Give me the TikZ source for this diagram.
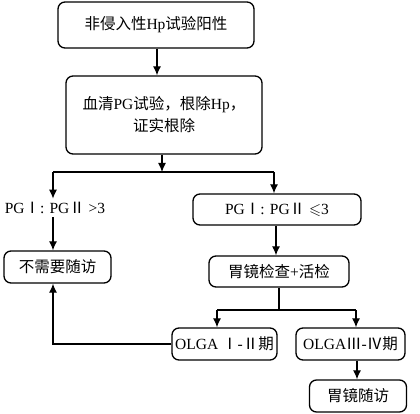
\documentclass[tikz,border=0pt]{standalone}
\usepackage{amssymb}
\usepackage{fontspec}
\setmainfont{Liberation Serif}
\newfontfamily\cjk{Noto Sans CJK SC}
\newcommand{\zh}[1]{{\cjk #1}}
\usetikzlibrary{arrows.meta}
\tikzset{
  box/.style={draw,line width=1.3pt,rounded corners=7pt,align=center,inner sep=0pt},
  arr/.style={line width=1.2pt,-{Latex[length=9pt,width=8pt]}},
  ln/.style={line width=1.2pt}
}
\begin{document}
\begin{tikzpicture}[x=1pt,y=-1pt,font=\fontsize{15.5}{22}\selectfont]
			\useasboundingbox (0,0) rectangle (420,414);
			% boxes
			\node[box,minimum width=196pt,minimum height=46pt] (test) at (156,25) {\zh{非侵入性}Hp\zh{试验阳性}};
			\node[box,minimum width=196pt,minimum height=78pt] (serum) at (164,115) {\zh{血清}PG\zh{试验，根除}Hp\zh{，}\\\zh{证实根除}};
			\node (high) at (55,208) {PG\zh{Ⅰ}: PG\zh{Ⅱ} \textgreater3};
			\node[box,minimum width=168pt,minimum height=31pt] (low) at (277,209.5) {PG\zh{Ⅰ}: PG\zh{Ⅱ} $\leqslant$3};
			\node[box,minimum width=107pt,minimum height=32pt] (nofu) at (57.5,267) {\zh{不需要随访}};
			\node[box,minimum width=140pt,minimum height=31pt] (endo) at (279,271.5) {\zh{胃镜检查}+\zh{活检}};
			\node[box,minimum width=105pt,minimum height=32pt] (olgaA) at (224.5,344) {OLGA \zh{Ⅰ}-\zh{Ⅱ期}};
			\node[box,minimum width=109pt,minimum height=32pt] (olgaB) at (350.5,344) {OLGA\zh{Ⅲ}-\zh{Ⅳ期}};
			\node[box,minimum width=97pt,minimum height=32pt] (fu) at (358,396) {\zh{胃镜随访}};
			% split points
			\coordinate (sl) at (53,172);
			\coordinate (sr) at (274,172);
			\coordinate (el) at (217,310);
			\coordinate (er) at (356,310);
			% connectors
			\draw[arr] (test.south -| 157,0) -- (serum.north -| 157,0);
			\draw[arr] (serum.south -| 162,0) -- (sl -| 162,0);
			\draw[ln] (sl) -- (sr);
			\draw[arr] (sl) -- (high.north -| sl);
			\draw[arr] (sr) -- (low.north -| sr);
			\draw[arr] (high.south -| sl) -- (nofu.north -| sl);
			\draw[arr] (low.south -| 276,0) -- (endo.north -| 276,0);
			\draw[ln] (endo.south -| 279,0) -- (el -| 279,0);
			\draw[ln] (el) -- (er);
			\draw[arr] (el) -- (olgaA.north -| el);
			\draw[arr] (er) -- (olgaB.north -| er);
			\draw[arr] (olgaA.west) -| (nofu.south -| sl);
			\draw[arr] (olgaB.south -| 357,0) -- (fu.north -| 357,0);
		\end{tikzpicture}
\end{document}
